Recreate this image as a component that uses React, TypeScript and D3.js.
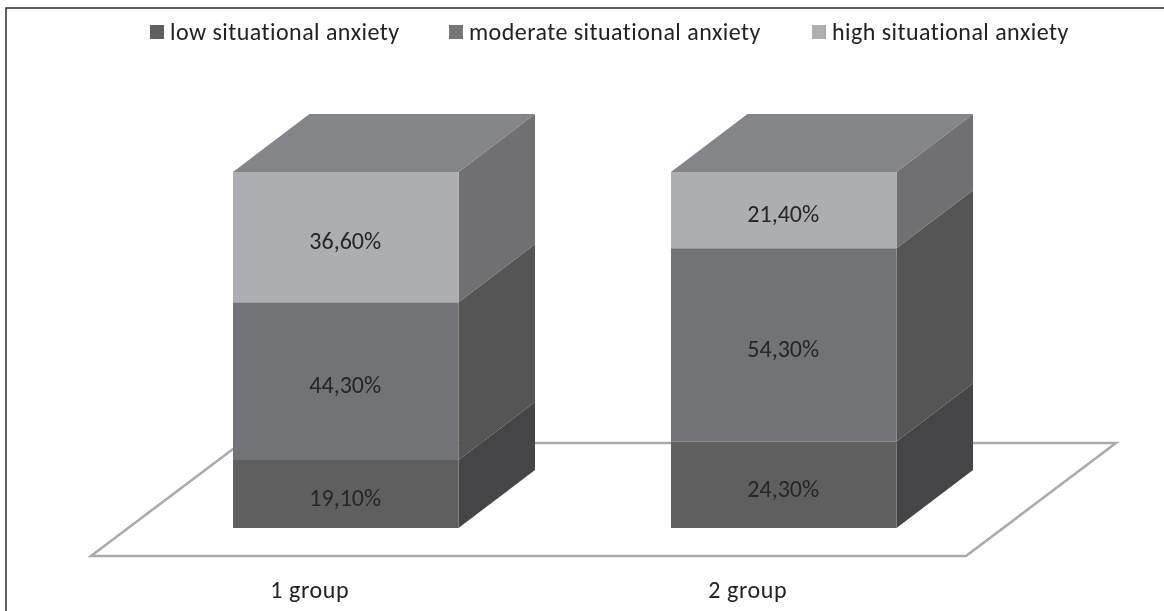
import { useEffect, useRef } from 'react'
import * as d3 from 'd3'

const groups = ['1 group', '2 group']
const seriesNames = ['low situational anxiety', 'moderate situational anxiety', 'high situational anxiety']
const low = [19.1, 24.3]
const moderate = [44.3, 54.3]
const high = [36.6, 21.4]

const frontColors = ['#5f5f61', '#727376', '#adaeb1']
const sideColors = ['#454547', '#545455', '#6f7073']
const topColor = '#848588'
const legendColors = ['#5f5f61', '#737477', '#adaeb1']
const font = "Carlito, Calibri, Lato, sans-serif"

export default function App() {
  const ref = useRef<SVGSVGElement | null>(null)

  useEffect(() => {
    if (!ref.current) return
    const width = 1164, height = 611
    const svg = d3.select(ref.current).attr('viewBox', `0 0 ${width} ${height}`)
    svg.selectAll('*').remove()

    // the scan is a bit soft
    svg.append('defs').append('filter').attr('id', 'soft')
      .attr('filterUnits', 'userSpaceOnUse')
      .attr('x', 0).attr('y', 0).attr('width', width).attr('height', height)
      .append('feGaussianBlur').attr('stdDeviation', 0.6)
    const root = svg.append('g').attr('filter', 'url(#soft)')

    // frame
    root.append('path')
      .attr('d', 'M6,614V8H1168')
      .attr('fill', 'none').attr('stroke', '#2b2b2b').attr('stroke-width', 1.5)

    const barX = d3.scalePoint().domain(groups).range([233, 671])
    const barW = 225.5
    const y = d3.scaleLinear().domain([0, 100]).range([528, 172])
    const depthX = 76.5, depthY = -58

    // floor
    const floorY = 556, floorBack = 443
    root.append('path')
      .attr('d', d3.line()([[91, floorY], [966, floorY], [1116, floorBack], [241, floorBack]])! + 'Z')
      .attr('fill', 'none').attr('stroke', '#a9aaac').attr('stroke-width', 2.5)

    const table = groups.map((g, i) => ({ group: g, low: low[i], moderate: moderate[i], high: high[i] }))
    const stacked = d3.stack<any>().keys(['low', 'moderate', 'high'])(table)
    const poly = d3.line()

    stacked.forEach((layer, s) => {
      layer.forEach((d, i) => {
        const x0 = barX(groups[i])!
        const x1 = x0 + barW
        const y0 = y(d[0]), y1 = y(d[1])
        const g = root.append('g')
        g.append('path')
          .attr('d', poly([[x1, y0], [x1 + depthX, y0 + depthY], [x1 + depthX, y1 + depthY], [x1, y1]])! + 'Z')
          .attr('fill', sideColors[s])
        g.append('rect')
          .attr('x', x0).attr('y', y1).attr('width', barW).attr('height', y0 - y1)
          .attr('fill', frontColors[s])
        if (s === stacked.length - 1) {
          g.append('path')
            .attr('d', poly([[x0, y1], [x0 + depthX, y1 + depthY], [x1 + depthX, y1 + depthY], [x1, y1]])! + 'Z')
            .attr('fill', topColor)
        }
        g.append('text')
          .attr('x', x0 + barW / 2 - 0.5).attr('y', (y0 + y1) / 2 + 12)
          .attr('text-anchor', 'middle')
          .attr('font-family', font).attr('font-size', 24)
          .attr('fill', '#262626')
          .text(d3.format('.2f')(d[1] - d[0]).replace('.', ',') + '%')
      })
    })

    // group labels sit left of the bar centres
    root.append('g').selectAll('text').data(groups).enter().append('text')
      .attr('x', d => barX(d)! + barW / 2 - 36)
      .attr('y', 598)
      .attr('text-anchor', 'middle')
      .attr('font-family', font).attr('font-size', 24).attr('letter-spacing', 0.6)
      .attr('fill', '#222')
      .text(d => d)

    // legend
    const legendX = [150, 449, 812]
    const legend = root.append('g').selectAll('g').data(seriesNames).enter().append('g')
      .attr('transform', (d, i) => `translate(${legendX[i]},25)`)
    legend.append('rect').attr('width', 14).attr('height', 14).attr('fill', (d, i) => legendColors[i])
    legend.append('text')
      .attr('x', 20).attr('y', 15)
      .attr('font-family', font).attr('font-size', 24).attr('letter-spacing', 0.45)
      .attr('fill', '#222')
      .text(d => d)
  }, [])

  return <svg ref={ref} width={1164} height={611} style={{ position: 'absolute', left: 0, top: 0, background: '#fff' }} />
}
